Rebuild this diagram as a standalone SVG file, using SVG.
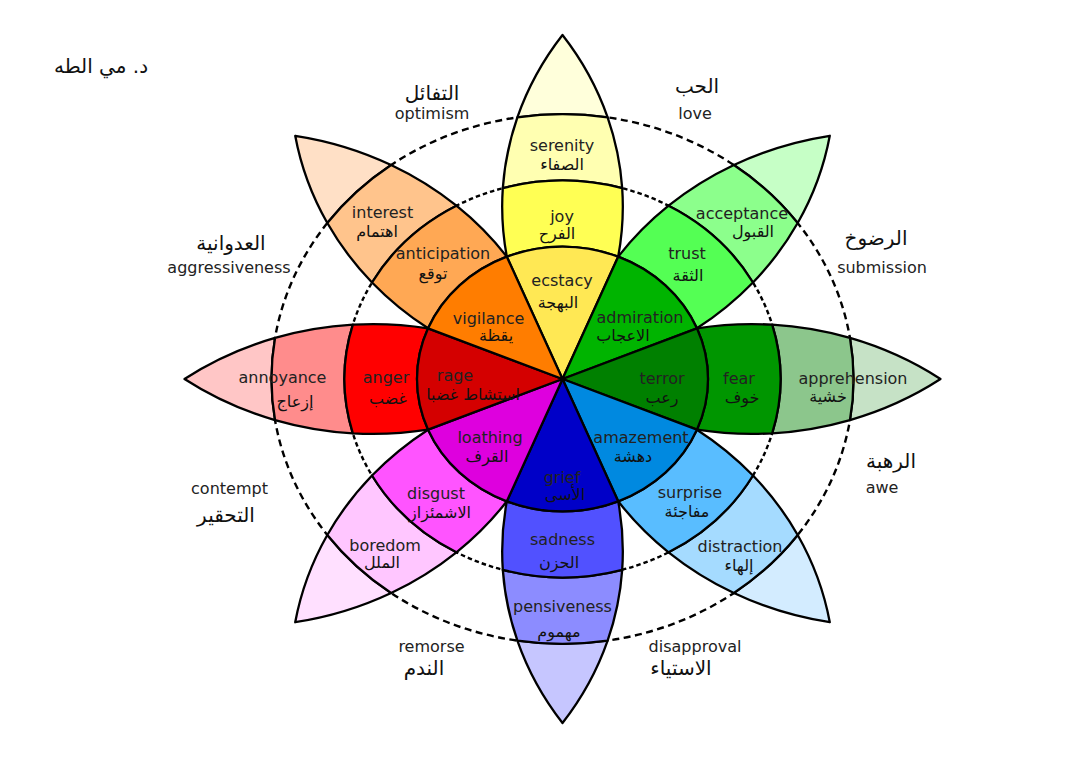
<svg xmlns="http://www.w3.org/2000/svg" xmlns:xlink="http://www.w3.org/1999/xlink" width="1077" height="759" viewBox="0 0 1077 759">
<style>
.s{stroke:#000;stroke-width:2.3;stroke-linejoin:round;vector-effect:non-scaling-stroke}
.d1{fill:none;stroke:#000;stroke-width:2.4;stroke-dasharray:7 4.5;vector-effect:non-scaling-stroke}
.d2{fill:none;stroke:#000;stroke-width:2.4;stroke-dasharray:4.5 3;vector-effect:non-scaling-stroke}
.en{font-family:"DejaVu Sans",Verdana,sans-serif;font-size:16px;fill:#222;text-anchor:middle}
.ar{font-family:"DejaVu Sans",sans-serif;font-size:16px;fill:#111;text-anchor:middle}
.al{font-family:"DejaVu Sans",sans-serif;font-size:20px;fill:#111;text-anchor:middle}
</style>
<defs>
<path id="b4" class="s" d="M-45.12,-287.48 A326.5,326.5 0 0 1 0,-378 A326.5,326.5 0 0 1 45.12,-287.48 A291,291 0 0 0 -45.12,-287.48 Z"/>
<path id="b3" class="s" d="M-59.69,-209.67 A326.5,326.5 0 0 1 -45.12,-287.48 A291,291 0 0 1 45.12,-287.48 A326.5,326.5 0 0 1 59.69,-209.67 A218,218 0 0 0 -59.69,-209.67 Z"/>
<path id="b2" class="s" d="M-55.68,-134.42 A326.5,326.5 0 0 1 -59.69,-209.67 A218,218 0 0 1 59.69,-209.67 A326.5,326.5 0 0 1 55.68,-134.42 A145.5,145.5 0 0 0 -55.68,-134.42 Z"/>
<path id="b1" class="s" d="M0,0 L-55.68,-134.42 A145.5,145.5 0 0 1 55.68,-134.42 Z"/>
</defs>
<rect width="1077" height="759" fill="#fff"/>
<g id="rings" transform="translate(562.5 379) scale(1 0.91)">
<circle class="d1" r="291"/>
<circle class="d2" r="218"/>
</g>
<g id="joy">
<g transform="translate(562.5 379) scale(1 0.91) rotate(0)">
<use xlink:href="#b4" fill="#ffffdb"/><use xlink:href="#b3" fill="#ffffb1"/><use xlink:href="#b2" fill="#ffff54"/><use xlink:href="#b1" fill="#ffe854"/>
</g>
<text class="en" x="562" y="151">serenity</text><text class="ar" x="562" y="170" direction="rtl">الصفاء</text>
<text class="en" x="562" y="222">joy</text><text class="ar" x="557" y="239" direction="rtl">الفرح</text>
<text class="en" x="562" y="286">ecstacy</text><text class="ar" x="558" y="308" direction="rtl">البهجة</text>
</g>
<g id="trust">
<g transform="translate(562.5 379) scale(1 0.91) rotate(45)">
<use xlink:href="#b4" fill="#c6ffc6"/><use xlink:href="#b3" fill="#8cff8c"/><use xlink:href="#b2" fill="#54ff54"/><use xlink:href="#b1" fill="#00b400"/>
</g>
<text class="en" x="742" y="219">acceptance</text><text class="ar" x="753" y="237" direction="rtl">القبول</text>
<text class="en" x="687" y="259">trust</text><text class="ar" x="688" y="281" direction="rtl">الثقة</text>
<text class="en" x="640" y="323">admiration</text><text class="ar" x="623" y="341" direction="rtl">الاعجاب</text>
</g>
<g id="fear">
<g transform="translate(562.5 379) scale(1 0.91) rotate(90)">
<use xlink:href="#b4" fill="#c6e2c6"/><use xlink:href="#b3" fill="#8cc68c"/><use xlink:href="#b2" fill="#009600"/><use xlink:href="#b1" fill="#008000"/>
</g>
<text class="en" x="853" y="384">apprehension</text><text class="ar" x="828" y="402" direction="rtl">خشية</text>
<text class="en" x="739" y="384">fear</text><text class="ar" x="742" y="403" direction="rtl">خوف</text>
<text class="en" x="662" y="384">terror</text><text class="ar" x="662" y="403" direction="rtl">رعب</text>
</g>
<g id="surprise">
<g transform="translate(562.5 379) scale(1 0.91) rotate(135)">
<use xlink:href="#b4" fill="#d3ecff"/><use xlink:href="#b3" fill="#a5dbff"/><use xlink:href="#b2" fill="#59bdff"/><use xlink:href="#b1" fill="#0089e0"/>
</g>
<text class="en" x="740" y="552">distraction</text><text class="ar" x="739" y="571" direction="rtl">إلهاء</text>
<text class="en" x="690" y="498">surprise</text><text class="ar" x="687" y="517" direction="rtl">مفاجئة</text>
<text class="en" x="641" y="443">amazement</text><text class="ar" x="633" y="462" direction="rtl">دهشة</text>
</g>
<g id="sadness">
<g transform="translate(562.5 379) scale(1 0.91) rotate(180)">
<use xlink:href="#b4" fill="#c6c6ff"/><use xlink:href="#b3" fill="#8c8cff"/><use xlink:href="#b2" fill="#5151ff"/><use xlink:href="#b1" fill="#0000c8"/>
</g>
<text class="en" x="562.5" y="612">pensiveness</text><text class="ar" x="559" y="637" direction="rtl">مهموم</text>
<text class="en" x="562" y="483">grief</text><text class="ar" x="565" y="500" direction="rtl">الأسى</text>
<text class="en" x="562.5" y="545">sadness</text><text class="ar" x="559" y="568" direction="rtl">الحزن</text>
</g>
<g id="disgust">
<g transform="translate(562.5 379) scale(1 0.91) rotate(225)">
<use xlink:href="#b4" fill="#ffe0ff"/><use xlink:href="#b3" fill="#ffc6ff"/><use xlink:href="#b2" fill="#ff54ff"/><use xlink:href="#b1" fill="#de00de"/>
</g>
<text class="en" x="385" y="551">boredom</text><text class="ar" x="382" y="568" direction="rtl">الملل</text>
<text class="en" x="436" y="499">disgust</text><text class="ar" x="440" y="518" direction="rtl">الاشمئزاز</text>
<text class="en" x="490" y="443">loathing</text><text class="ar" x="487" y="462" direction="rtl">القرف</text>
</g>
<g id="anger">
<g transform="translate(562.5 379) scale(1 0.91) rotate(270)">
<use xlink:href="#b4" fill="#ffc6c6"/><use xlink:href="#b3" fill="#ff8c8c"/><use xlink:href="#b2" fill="#ff0000"/><use xlink:href="#b1" fill="#d40000"/>
</g>
<text class="en" x="282.5" y="383">annoyance</text><text class="ar" x="295" y="407" direction="rtl">إزعاج</text>
<text class="en" x="386" y="383">anger</text><text class="ar" x="388" y="404" direction="rtl">غضب</text>
<text class="en" x="455" y="381">rage</text><text class="ar" x="473" y="400" direction="rtl">استشاط غضبا</text>
</g>
<g id="anticipation">
<g transform="translate(562.5 379) scale(1 0.91) rotate(315)">
<use xlink:href="#b4" fill="#ffe0c6"/><use xlink:href="#b3" fill="#ffc48c"/><use xlink:href="#b2" fill="#ffa854"/><use xlink:href="#b1" fill="#ff7d00"/>
</g>
<text class="en" x="382.5" y="218">interest</text><text class="ar" x="377" y="237" direction="rtl">اهتمام</text>
<text class="en" x="443" y="259">anticipation</text><text class="ar" x="433" y="279" direction="rtl">توقع</text>
<text class="en" x="488.5" y="324">vigilance</text><text class="ar" x="496" y="341" direction="rtl">يقظة</text>
</g>
<g id="outer-labels">
<text class="al" x="101" y="73" direction="rtl">د. مي الطه</text>
<text class="al" x="432" y="100" direction="rtl">التفائل</text><text class="en" x="432" y="119">optimism</text>
<text class="al" x="697" y="93" direction="rtl">الحب</text><text class="en" x="695" y="119">love</text>
<text class="al" x="876" y="245" direction="rtl">الرضوخ</text><text class="en" x="882" y="273">submission</text>
<text class="al" x="231" y="250" direction="rtl">العدوانية</text><text class="en" x="229" y="273">aggressiveness</text>
<text class="al" x="891" y="468" direction="rtl">الرهبة</text><text class="en" x="882" y="493">awe</text>
<text class="en" x="229.5" y="494">contempt</text><text class="al" x="226" y="522" direction="rtl">التحقير</text>
<text class="en" x="431.5" y="652">remorse</text><text class="al" x="424" y="675" direction="rtl">الندم</text>
<text class="en" x="695" y="652">disapproval</text><text class="al" x="681" y="675" direction="rtl">الاستياء</text>
</g>
</svg>
